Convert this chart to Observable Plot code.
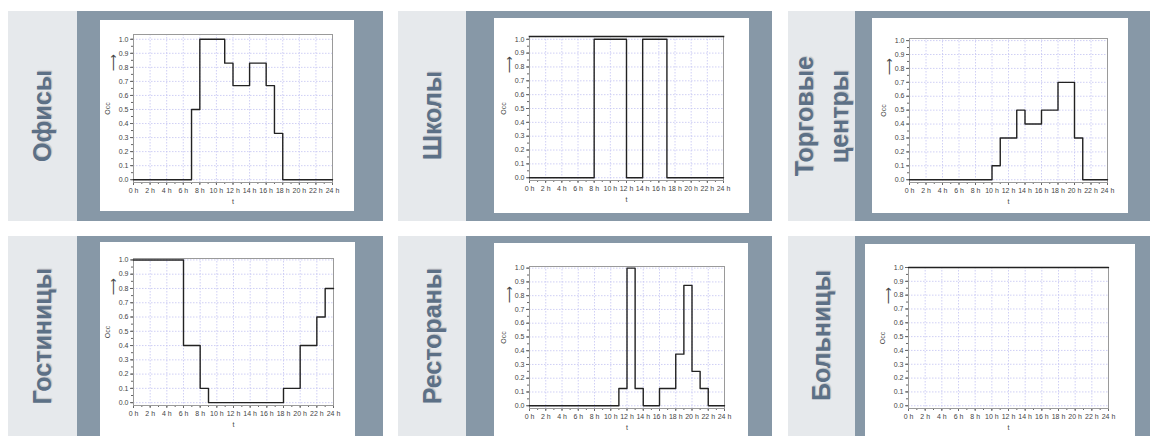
<!DOCTYPE html>
<html>
<head>
<meta charset="utf-8">
<script src="https://cdn.jsdelivr.net/npm/d3@7"></script>
<script src="https://cdn.jsdelivr.net/npm/@observablehq/plot@0.6"></script>
<style>
  html, body { margin: 0; padding: 0; }
  body { width: 1150px; height: 436px; overflow: hidden; position: relative; background: #ffffff;
         font-family: "Liberation Sans", Arial, sans-serif; }
  .lab { position: absolute; background: #e6e9ec; display: flex; align-items: center; justify-content: center; }
  .lab span { writing-mode: vertical-rl; transform: rotate(180deg); font-weight: bold; font-size: 25px;
              color: #5c7086; line-height: 1.4; text-align: center; text-shadow: 1px 1px 1px rgba(0,0,0,0.18); }
  .slate { position: absolute; background: #8798a7; }
  .box { position: absolute; background: #ffffff; overflow: visible; }
  .box svg { overflow: visible; }
</style>
</head>
<body>
<script>
// ---- data (hourly occupancy, value holds from h to h+1) ----
const titles = ["Офисы", "Школы", "Торговые<br>центры", "Гостиницы", "Рестораны", "Больницы"];
const offices     = [0,0,0,0,0,0,0,0.5,1,1,1,0.83,0.67,0.67,0.83,0.83,0.67,0.33,0,0,0,0,0,0];
const schools     = [0,0,0,0,0,0,0,0,1,1,1,1,0,0,1,1,1,0,0,0,0,0,0,0];
const malls       = [0,0,0,0,0,0,0,0,0,0,0.1,0.3,0.3,0.5,0.4,0.4,0.5,0.5,0.7,0.7,0.3,0,0,0];
const hotels      = [1,1,1,1,1,1,0.4,0.4,0.1,0,0,0,0,0,0,0,0,0,0.1,0.1,0.4,0.4,0.6,0.8];
const restaurants = [0,0,0,0,0,0,0,0,0,0,0,0.125,1,0.125,0,0,0.125,0.125,0.375,0.875,0.25,0.125,0,0];
const hospitals   = [1,1,1,1,1,1,1,1,1,1,1,1,1,1,1,1,1,1,1,1,1,1,1,1];
const hourTicks = [0,2,4,6,8,10,12,14,16,18,20,22,24];
const yTicks = [0,0.1,0.2,0.3,0.4,0.5,0.6,0.7,0.8,0.9,1.0];
const xLabel = "t";
const yLabel = "Occ";
const series = [offices, schools, malls, hotels, restaurants, hospitals];

// ---- layout ----
const cols = [{lx: 8, lw: 69, sx: 77, sw: 306}, {lx: 398, lw: 68, sx: 466, sw: 306}, {lx: 788, lw: 67, sx: 855, sw: 295}];
const rows = [{y: 11, h: 210}, {y: 236, h: 200}];
// white box [left, top, width, height], frame [x0, y0, x1, y1], y-domain top, dark top edge
const panels = [
  {box: [100, 20, 254, 191], frame: [133, 34, 332, 182], hi: 1.034, topDark: false},
  {box: [494, 18, 255, 195], frame: [529, 36, 723, 180], hi: 1.02, topDark: true},
  {box: [872, 18, 256, 195], frame: [909, 38, 1107, 182], hi: 1.015, topDark: false},
  {box: [100, 242, 255, 210], frame: [133, 258, 333, 405], hi: 1.01, topDark: false},
  {box: [494, 243, 254, 210], frame: [529, 266, 724, 408], hi: 1.012, topDark: false},
  {box: [865, 244, 270, 210], frame: [908, 267, 1108, 408], hi: 1.0, topDark: false}
];

panels.forEach((p, i) => {
  const c = cols[i % 3], r = rows[Math.floor(i / 3)];
  const lab = document.createElement("div");
  lab.className = "lab";
  Object.assign(lab.style, {left: c.lx + "px", top: r.y + "px", width: c.lw + "px", height: r.h + "px"});
  lab.innerHTML = "<span>" + titles[i] + "</span>";
  document.body.appendChild(lab);
  const sl = document.createElement("div");
  sl.className = "slate";
  Object.assign(sl.style, {left: c.sx + "px", top: r.y + "px", width: c.sw + "px", height: r.h + "px"});
  document.body.appendChild(sl);

  const [bx, by, bw, bh] = p.box;
  const [fx0, fy0, fx1, fy1] = p.frame;
  const box = document.createElement("div");
  box.className = "box";
  Object.assign(box.style, {left: bx + "px", top: by + "px", width: bw + "px", height: bh + "px"});
  document.body.appendChild(box);

  const vals = series[i];
  const data = d3.range(25).map(h => ({h, v: vals[Math.min(h, 23)]}));
  const gridStyle = {stroke: "#c4c4f2", strokeOpacity: 1, strokeDasharray: "1.5,1.5", strokeWidth: 0.8};
  const chart = Plot.plot({
    width: bw, height: bh,
    marginLeft: fx0 - bx, marginRight: bx + bw - fx1,
    marginTop: fy0 - by, marginBottom: by + bh - fy1,
    style: {fontFamily: "Liberation Sans, Arial, sans-serif", fontSize: "7px", color: "#444", background: "transparent"},
    x: {domain: [0, 24]},
    y: {domain: [-0.02, p.hi]},
    marks: [
      Plot.gridX(hourTicks, gridStyle),
      Plot.gridY(yTicks, gridStyle),
      Plot.axisX(d3.range(0, 25, 1), {tickSize: 2, text: null, label: null, stroke: "#666"}),
      Plot.axisX(hourTicks, {tickSize: 3, tickPadding: 3, stroke: "#666", fill: "#444", tickFormat: d => d + " h",
        label: xLabel, labelAnchor: "center", labelArrow: "none", labelOffset: 21}),
      Plot.axisY(d3.range(0, 1.001, 0.05), {tickSize: 2, text: null, label: null, stroke: "#666"}),
      Plot.axisY(yTicks, {tickSize: 3, tickPadding: 2, stroke: "#666", fill: "#444", tickFormat: ".1f",
        label: yLabel, labelAnchor: "center", labelArrow: "none", labelOffset: 28}),
      Plot.frame({stroke: "#9a9a9a"}),
      p.topDark ? Plot.frame({anchor: "top", stroke: "#222", strokeWidth: 1.6}) : null,
      Plot.lineY(data, {x: "h", y: "v", curve: "step-after", stroke: "#222", strokeWidth: 1.4}),
      Plot.text(["⟶"], {frameAnchor: "top-left", rotate: -90, dx: -25, dy: 37, fontSize: 12, fill: "#444",
        fontFamily: "DejaVu Sans"})
    ]
  });
  box.appendChild(chart);
});
</script>
</body>
</html>
